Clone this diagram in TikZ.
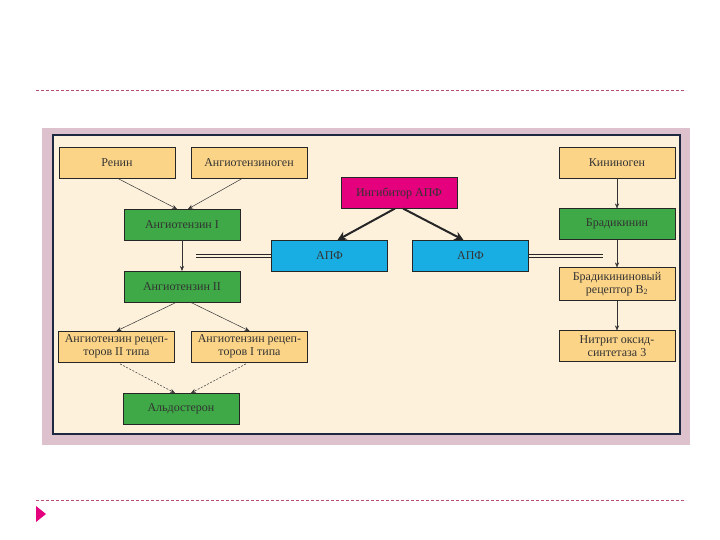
\documentclass[tikz,border=0pt]{standalone}
\usepackage{fontspec}
\setmainfont{Liberation Serif}
\usepackage{tikz}
\usetikzlibrary{arrows.meta, positioning}

\definecolor{peach}{HTML}{FCD487}
\definecolor{leaf}{HTML}{3EA946}
\definecolor{sky}{HTML}{19AEE3}
\definecolor{rose}{HTML}{E5007D}
\definecolor{cream}{HTML}{FDF1DC}
\definecolor{navy}{HTML}{1E2840}
\definecolor{mauve}{HTML}{DDC2CE}
\definecolor{dashpink}{HTML}{B5506E}

\begin{document}
\begin{tikzpicture}[
    x=1pt, y=-1pt,
    box/.style={rectangle, draw=black!85, line width=0.7pt, minimum width=116pt,
                minimum height=31pt, inner sep=1pt, outer sep=0pt, align=center,
                text=black!80, font=\fontsize{12}{12.5}\selectfont},
    precursor/.style={box, fill=peach},
    hormone/.style={box, fill=leaf},
    enzyme/.style={box, fill=sky},
    blocker/.style={box, fill=rose},
    arrow/.style={-{Stealth[length=5pt, width=4pt]}, line width=0.5pt, black!80},
    weak/.style={arrow, dashed, dash pattern=on 2pt off 1.5pt},
    bold/.style={-{Stealth[length=9pt, width=9pt]}, line width=2pt, black!85},
    link/.style={line width=0.8pt, black!85},
    rule/.style={dashpink, line width=0.7pt, dash pattern=on 3pt off 2pt}
]
    \useasboundingbox (0,0) rectangle (720,540);

    % page rules
    \draw[rule] (36,90) -- (686,90);
    \draw[rule] (36,500) -- (686,500);
    \fill[rose] (36,506) -- (46,514) -- (36,522) -- cycle;

    % panel
    \fill[mauve] (42,128) rectangle (690,445);
    \draw[navy, line width=1.3pt, fill=cream] (53,135) rectangle (680,434);

    % renin - angiotensin branch
    \node[precursor] (renin) at (117,162.5) {Ренин};
    \node[precursor, right=16pt of renin] (angen) {Ангиотензиноген};
    \node[hormone] (ang1) at (182,224.5) {Ангиотензин I};
    \node[hormone, below=31pt of ang1] (ang2) {Ангиотензин II};
    \node[precursor] (rec2) at (116.5,346.5) {Ангиотензин рецеп-\\торов II типа};
    \node[precursor, right=17pt of rec2] (rec1) {Ангиотензин рецеп-\\торов I типа};
    \node[hormone] (aldo) at (181,408.5) {Альдостерон};

    % inhibitor and enzyme
    \node[blocker] (inhib) at (399,193) {Ингибитор АПФ};
    \node[enzyme] (apf1) at (329.5,255.5) {АПФ};
    \node[enzyme, right=25pt of apf1] (apf2) {АПФ};

    % kinin branch
    \node[precursor] (kinog) at (617,163) {Кининоген};
    \node[hormone, below=30pt of kinog] (brady) {Брадикинин};
    \node[precursor, below=28pt of brady, minimum height=33pt] (brec) {Брадикининовый\\рецептор B\textsubscript{2}};
    \node[precursor, below=30pt of brec] (nos) {Нитрит оксид-\\синтетаза 3};

    \coordinate (cut1) at (196,255.5);
    \coordinate (cut2) at (603,255.5);

    \draw[arrow] (renin.south) -- ([xshift=-5pt]ang1.north);
    \draw[arrow] ([xshift=-6pt]angen.south) -- ([xshift=6pt]ang1.north);
    \draw[arrow] (ang1) -- (ang2);
    \draw[arrow] ([xshift=-5pt]ang2.south) -- (rec2.north);
    \draw[arrow] ([xshift=8pt]ang2.south) -- (rec1.north);
    \draw[weak, shorten <=4pt] (rec2.south) -- ([xshift=-6pt]aldo.north);
    \draw[weak, shorten <=4pt] (rec1.south) -- ([xshift=10pt]aldo.north);

    \draw[bold] ([xshift=-4pt]inhib.south) -- ([xshift=8pt]apf1.north);
    \draw[bold] ([xshift=4pt]inhib.south) -- ([xshift=-7pt]apf2.north);
    \draw[link] ([yshift=-1.6pt]apf1.west) -- ([yshift=-1.6pt]cut1);
    \draw[link] ([yshift=1.6pt]apf1.west) -- ([yshift=1.6pt]cut1);
    \draw[link] ([yshift=-1.6pt]apf2.east) -- ([yshift=-1.6pt]cut2);
    \draw[link] ([yshift=1.6pt]apf2.east) -- ([yshift=1.6pt]cut2);

    \draw[arrow, line width=0.3pt] (kinog) -- (brady);
    \draw[arrow, line width=0.3pt] (brady) -- (brec);
    \draw[arrow, line width=0.3pt] (brec) -- (nos);
\end{tikzpicture}
\end{document}
